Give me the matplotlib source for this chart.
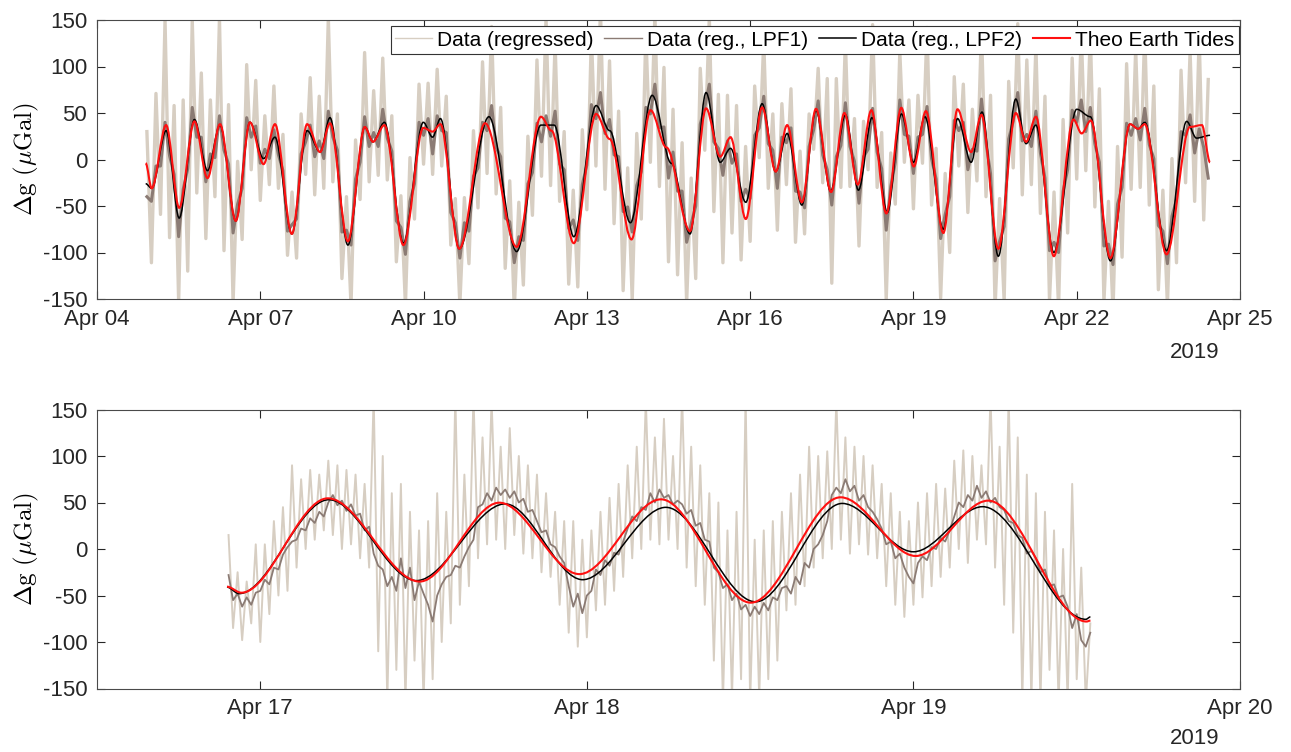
import numpy as np
import pandas as pd
import matplotlib
matplotlib.use('Agg')
import matplotlib.pyplot as plt
import matplotlib.dates as mdates
from matplotlib.path import Path
from matplotlib.patches import PathPatch
from matplotlib.lines import Line2D
from matplotlib.ticker import FixedLocator

plt.rcParams['font.family'] = ['Liberation Sans', 'DejaVu Sans']
plt.rcParams['mathtext.fontset'] = 'cm'
plt.rcParams['axes.unicode_minus'] = False

# ---- top panel: full record, 2-hour samples from Apr 04 22:00 ----
top_start = '2019-04-04 22:00'
top_regressed = [30,
    -111, 71, -59, 150, -84, 58, -153, 64, -120, 150, -36, 93,
    -85, 64, -40, 152, -98, 59, -154, -2, -86, 102, -11, 85,
    -44, 47, -27, 79, -31, 27, -103, -35, -106, 49, -16, 88,
    -38, 68, -31, 152, -24, 49, -128, -40, -157, 21, -43, 115,
    -24, 74, -17, 109, -22, 47, -110, -39, -157, 2, -64, 81,
    -5, 82, -16, 97, -7, 68, -92, -42, -156, -41, -112, 31,
    -52, 105, -15, 143, -37, 56, -117, -23, -161, -46, -135, 25,
    -60, 107, -18, 152, -28, 126, -45, 30, -134, -33, -137, 32,
    -54, 134, -7, 162, -32, 106, -69, 52, -141, -9, -151, 28,
    -64, 137, -3, 156, -29, 99, -110, 54, -124, 18, -154, -20,
    -128, 98, 10, 153, -56, 70, -111, 69, -79, 58, -108, 14,
    -88, 79, 2, 128, -31, 49, -76, 60, -27, 76, -89, 9,
    -80, 49, 11, 98, -25, 87, -133, 87, -30, 128, -29, 44,
    -93, 41, -11, 145, -30, 29, -151, 7, -48, 116, -3, 64,
    -53, 69, -4, 142, -49, 12, -149, -15, -100, 89, -7, 81,
    -57, 54, -23, 141, -40, 69, -159, -42, -152, 84, -9, 146,
    -38, 107, -27, 122, -58, 68, -152, -35, -160, 43, -79, 109,
    -21, 137, -12, 136, -51, 76, -153, -45, -163, 14, -105, 103,
    -32, 119, -30, 140, -49, 79, -140, -33, -157, 1, -111, 96,
    -25, 116, -45, 133, -65, 86]
top_lpf1 = [-40,
    -45, -7, -7, 40, 4, -16, -83, -32, -10, 56, 24, 24,
    -24, 6, 2, 47, 10, -5, -79, -48, -31, 45, 24, 36,
    -4, 11, 1, 32, 5, -12, -77, -70, -64, 6, 19, 37,
    3, 20, 1, 52, 24, 10, -78, -76, -92, -21, -3, 46,
    14, 29, 14, 54, 23, 9, -66, -73, -102, -45, -26, 40,
    26, 44, 6, 47, 31, 29, -57, -68, -106, -68, -77, -18,
    -9, 40, 31, 58, 13, 3, -63, -67, -111, -83, -87, -26,
    -14, 39, 19, 47, 25, 52, -5, -11, -74, -65, -87, -27,
    -6, 59, 44, 72, 28, 43, 5, 3, -56, -51, -78, -28,
    -13, 56, 49, 81, 34, 35, -20, 8, -34, -34, -89, -69,
    -50, 38, 56, 81, 19, 12, -17, 20, -4, 6, -45, -32,
    -42, 26, 34, 68, 17, 10, -31, 24, 18, 34, -34, -35,
    -52, 14, 32, 63, 5, -11, -49, 3, 15, 61, 14, -2,
    -47, 3, 11, 55, 8, -10, -76, -29, -3, 64, 27, 25,
    -15, 24, 27, 57, 1, -21, -85, -59, -40, 42, 31, 40,
    -11, 11, 9, 65, 18, -15, -109, -88, -72, 22, 41, 72,
    20, 27, 14, 52, 7, -20, -98, -89, -100, -34, -11, 53,
    40, 64, 30, 56, 17, -3, -93, -91, -113, -48, -30, 39,
    26, 44, 21, 55, 16, 1, -71, -77, -112, -61, -43, 30,
    26, 48, 7, 33, 13, -20]

# turning points of the smooth curves (day of April, uGal)
top_lpf2_day = [4.894, 5.005, 5.27, 5.51, 5.79, 6.03, 6.26, 6.55, 6.81, 7.06, 7.27, 7.58,
                7.86, 8.10, 8.28, 8.61, 8.92, 9.07, 9.28, 9.63, 9.995, 10.165, 10.31, 10.656,
                11.2, 11.71, 12.157, 12.40, 12.76, 13.17, 13.42, 13.80, 14.20, 14.55, 14.895,
                15.19, 15.45, 15.64, 15.92, 16.22, 16.47, 16.68, 16.95, 17.21, 17.48, 17.75,
                17.99, 18.24, 18.52, 18.78, 19.0, 19.21, 19.55, 19.81, 20.06, 20.26, 20.56,
                20.88, 21.07, 21.25, 21.58, 22.0, 22.25, 22.62, 22.98, 23.13, 23.25, 23.65,
                24.02, 24.2, 24.45]
top_lpf2_val = [-26, -31, 31, -63, 43, -12, 37, -66, 40, 1, 24, -80,
                31, 8, 45, -92, 35, 19, 40, -90, 40, 24, 44, -96,
                46, -99, 37, 37, -83, 58, 31, -68, 69, -4, -80,
                72, -3, 12, -46, 60, -13, 28, -49, 53, -34, 48,
                -33, 45, -57, 49, -3, 46, -75, 44, -3, 51, -104,
                65, 17, 37, -100, 54, 46, -109, 38, 33, 40, -98,
                41, 23, 26]
top_theo_day = [4.894, 5.005, 5.27, 5.51, 5.79, 6.03, 6.26, 6.55, 6.81, 7.06, 7.27, 7.58,
                7.86, 8.10, 8.28, 8.61, 8.92, 9.07, 9.28, 9.63, 9.995, 10.165, 10.31, 10.656,
                11.13, 11.71, 12.157, 12.35, 12.76, 13.17, 13.42, 13.82, 14.17, 14.46, 14.895,
                15.19, 15.45, 15.64, 15.92, 16.22, 16.47, 16.68, 16.95, 17.21, 17.488, 17.732,
                17.977, 18.227, 18.502, 18.777, 19.007, 19.229, 19.55, 19.81, 20.06, 20.25,
                20.56, 20.88, 21.07, 21.25, 21.58, 21.94, 22.09, 22.26, 22.62, 22.98, 23.13,
                23.25, 23.65, 24.08, 24.30, 24.45]
top_theo_val = [-4, -31, 37, -52, 41, -20, 38, -66, 40, -5, 38, -80,
                38, 8, 39, -88, 35, 19, 37, -92, 34, 30, 38, -96,
                39, -94, 46, 31, -90, 49, 22, -86, 53, 13, -77,
                55, 3, 24, -64, 56, -13, 37, -46, 54.5, -35, 50,
                -27, 53, -58, 55.6, -7.5, 52, -79, 54, 8, 48,
                -96, 50, 19, 46, -104, 43, 28, 42, -106, 38, 33,
                38, -102, 35, 37, -3]

# ---- bottom panel: Apr 16-19 zoom, 20-minute samples from Apr 16 21:40 ----
zoom_start = '2019-04-16 21:40'
zoom_regressed = [15, -85, -25, -98, -35, -80, 5,
    -100, 5, -70, 30, -50, 45,
    -45, 90, -20, 75, 0, 85, 10, 80, 20,
    95, 15, 90, 0, 85, 5, 80, -10, 70, -20,
    165, -110, 100, -165, 60, -130,
    70, -165, 40, -120, 20, -165, 30, -140, 60,
    -100, 40, -80, 165, -60, 80, -40, 165,
    -10, 120, 5, 160, 10, 110, 0, 130, 15, 100, -5, 90, -10,
    80, -25, 60, -30, 40, -60, 30,
    -90, 30, -105, 10, -95, 20,
    -66, 40, -60, 55, -45, 70, -30,
    90, -10, 110, 0, 160, 10, 120, 5, 140, 10, 100, 0,
    165, -20, 110, -40, 90, -60, 60,
    -120, 50, -165, 20, -160, 40, -140, 165, -165, 10, -160, 20, -140, 30, -120, 40,
    -66, 60, -60, 80, -40, 110, -20, 100, -10, 105,
    0, 160, 10, 120, -5, 110, 5, 100, -6, 90, -10,
    70, -40, 60, -60, 40, -73, 30, -60,
    50, -52, 60, -40, 70, -30, 65, -20,
    95, 0, 106, -15, 100, 10, 90, 5, 165, -20, 110,
    -60, 165, -90, 120, -165, 80, -165,
    60, -165, 40, -130, 20, -165, 0,
    -165, 70, -140, -20, -165, -80]
zoom_lpf1 = [-28, -55, -48, -62, -52, -60, -47,
    -45, -33, -38, -20, -22, -6,
    2, 8, 10, 22, 20, 33, 28, 40, 35,
    50, 58, 47, 52, 41, 48, 36, 38, 20, 24,
    -5, -18, -22, -40, -30, -45,
    -10, -42, -20, -55, -35, -48, -60, -78, -50,
    -38, -30, -28, -18, -20, -8, 2, 10,
    45, 48, 60, 52, 66, 58, 64, 55, 62, 50, 54, 40, 42,
    30, 18, 20, 5, 2, -8, -15,
    -40, -62, -48, -69, -50, -45,
    -22, -28, -12, -18, -4, -6, 8,
    22, 35, 30, 45, 42, 60, 50, 64, 55, 58, 48, 52,
    48, 38, 42, 25, 28, 10, 8,
    -20, -25, -42, -38, -55, -48, -65, -60, -72, -62, -70, -58, -66, -52, -55, -42,
    -40, -48, -30, -38, -15, -20, 0, 5, 15, 30,
    58, 66, 60, 75, 62, 68, 52, 58, 45, 40, 32,
    22, 5, 8, -10, -5, -20, -30, -37,
    -15, -8, -12, 2, 0, 12, 8, 20,
    35, 50, 45, 58, 52, 68, 55, 62, 50, 55, 45,
    42, 30, 28, 15, 12, -5, -2,
    -10, -25, -22, -40, -38, -52, -50,
    -62, -85, -70, -98, -105, -90]
zoom_lpf2_day = [16.898, 16.935, 17.21, 17.478, 17.75, 17.987, 18.242, 18.517, 18.782,
                 19.0, 19.212, 19.528, 19.542]
zoom_lpf2_val = [-41, -48, 53, -34, 48.5, -33, 44.8, -56.8, 49, -3, 45.5, -75.6, -73]
zoom_theo_day = [16.898, 16.942, 17.207, 17.488, 17.732, 17.977, 18.227, 18.502, 18.777,
                 19.007, 19.229, 19.53, 19.542]
zoom_theo_val = [-40.5, -47, 54.5, -35, 49.8, -27, 53.4, -57.7, 55.6, -7.5, 52, -78, -77]

labels = ['Data (regressed)', 'Data (reg., LPF1)', 'Data (reg., LPF2)', 'Theo Earth Tides']
colors = ['#d7cec2', '#8b7b74', 'black', '#ff1010']
widths = [1.0, 1.0, 1.1, 1.5]
top_ticks = ['2019-04-04', '2019-04-07', '2019-04-10', '2019-04-13', '2019-04-16',
             '2019-04-19', '2019-04-22', '2019-04-25']
zoom_ticks = ['2019-04-17', '2019-04-18', '2019-04-19', '2019-04-20']

APR0 = mdates.date2num(pd.Timestamp('2019-04-01')) - 1


def april(days):
    return APR0 + np.asarray(days, dtype=float)


def smooth_curve(ax, x, y, **kw):
    # cubic segments with flat tangents at each turning point
    verts = [(x[0], y[0])]
    codes = [Path.MOVETO]
    for x0, y0, x1, y1 in zip(x[:-1], y[:-1], x[1:], y[1:]):
        dx = (x1 - x0) / 3.0
        verts += [(x0 + dx, y0), (x1 - dx, y1), (x1, y1)]
        codes += [Path.CURVE4] * 3
    ax.add_patch(PathPatch(Path(verts, codes), fill=False, **kw))


def draw_panel(ax, start, freq, regressed, lpf1, lpf2_day, lpf2_val, theo_day, theo_val,
               ticks, xlim, noise_lw):
    t = mdates.date2num(pd.date_range(start, periods=len(regressed), freq=freq))
    ax.plot(t, regressed, color=colors[0], lw=noise_lw[0], zorder=1)
    ax.plot(t, lpf1, color=colors[1], lw=noise_lw[1], zorder=2)
    smooth_curve(ax, april(lpf2_day), lpf2_val, edgecolor=colors[2], lw=widths[2], zorder=3)
    smooth_curve(ax, april(theo_day), theo_val, edgecolor=colors[3], lw=widths[3], zorder=4)

    ax.set_xlim(mdates.date2num(pd.Timestamp(xlim[0])), mdates.date2num(pd.Timestamp(xlim[1])))
    ax.set_ylim(-150, 150)
    ax.set_yticks([-150, -100, -50, 0, 50, 100, 150])
    ax.xaxis.set_major_locator(FixedLocator(mdates.date2num(pd.to_datetime(ticks))))
    ax.xaxis.set_major_formatter(mdates.DateFormatter('%b %d'))
    ax.tick_params(direction='in', top=True, right=True, length=6, width=0.8,
                   labelsize=16, colors='#262626', pad=7)
    for s in ax.spines.values():
        s.set_color('#4a4a4a')
        s.set_linewidth(0.8)
    ax.set_ylabel(r'$\Delta\mathrm{g}\ (\mu\mathrm{Gal})$', fontsize=18, labelpad=1)


fig = plt.figure(figsize=(12.91, 7.52), dpi=100)
ax1 = fig.add_axes([97 / 1291, 1 - 299 / 752, 1143 / 1291, 279 / 752])
ax2 = fig.add_axes([97 / 1291, 1 - 688.5 / 752, 1143 / 1291, 279 / 752])

draw_panel(ax1, top_start, '2h', top_regressed, top_lpf1, top_lpf2_day, top_lpf2_val,
           top_theo_day, top_theo_val, top_ticks, ('2019-04-04', '2019-04-25'), (2.4, 2.2))
draw_panel(ax2, zoom_start, '20min', zoom_regressed, zoom_lpf1, zoom_lpf2_day, zoom_lpf2_val,
           zoom_theo_day, zoom_theo_val, zoom_ticks, ('2019-04-16 12:00', '2019-04-20'),
           (1.4, 1.3))

handles = [Line2D([], [], color=c, lw=w) for c, w in zip(colors, widths)]
leg = ax1.legend(handles, labels, loc='upper right', bbox_to_anchor=(0.999, 0.977),
                 ncol=4, fontsize=15, frameon=True, fancybox=False, framealpha=1,
                 edgecolor='#333333', handlelength=1.8, handletextpad=0.25,
                 columnspacing=0.5, borderpad=0.2, borderaxespad=0)
leg.set_zorder(10)
leg.get_frame().set_linewidth(0.8)

fig.text(1195 / 1291, 1 - 352 / 752, '2019', ha='center', va='center', fontsize=16,
         color='#262626')
fig.text(1195 / 1291, 3 / 752, '2019', ha='center', va='bottom', fontsize=16,
         color='#262626')

fig.savefig('out.png', dpi=100)
